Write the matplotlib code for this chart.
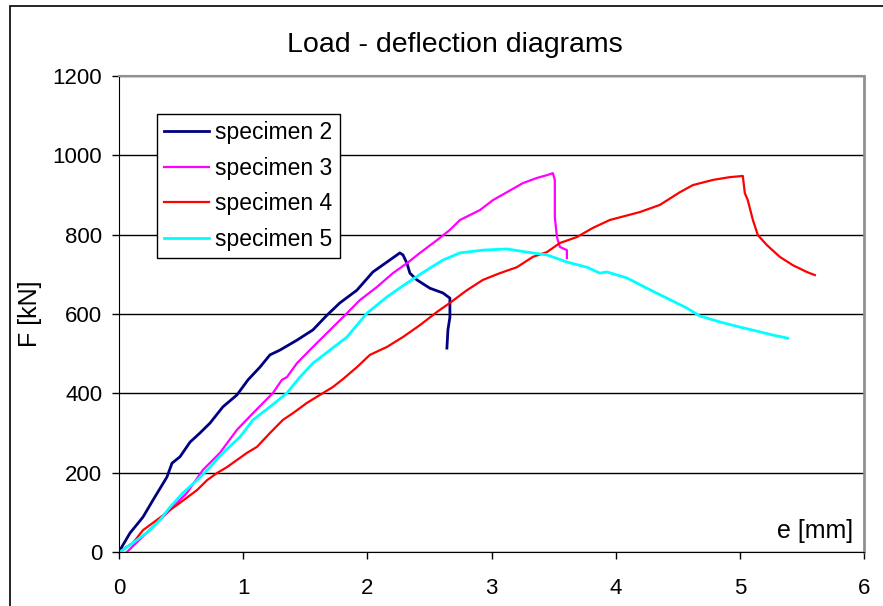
import matplotlib
matplotlib.use("Agg")
import matplotlib.pyplot as plt
from matplotlib.patches import Rectangle

plt.rcParams['font.family'] = ['Liberation Sans', 'DejaVu Sans']

# specimen 2 (navy)
e2 = [0.0, 0.008, 0.089, 0.193, 0.274, 0.386, 0.427, 0.491, 0.572, 0.652, 0.733,
      0.837, 0.950, 1.039, 1.135, 1.216, 1.296, 1.433, 1.562, 1.675, 1.779,
      1.916, 2.045, 2.158, 2.262, 2.287, 2.319, 2.343, 2.399, 2.504, 2.609,
      2.665, 2.665, 2.649, 2.641]
f2 = [0, 5, 48, 88, 131, 189, 224, 240, 277, 300, 325,
      366, 396, 434, 466, 497, 509, 534, 560, 597, 628,
      660, 706, 731, 754, 749, 728, 703, 686, 665, 653,
      640, 592, 560, 514]

# specimen 3 (magenta)
e3 = [0.064, 0.386, 0.547, 0.676, 0.813, 0.950, 1.079, 1.240, 1.312, 1.353,
      1.433, 1.562, 1.675, 1.804, 1.940, 2.077, 2.206, 2.319, 2.424, 2.560,
      2.665, 2.746, 2.907, 3.011, 3.124, 3.253, 3.366, 3.446, 3.494, 3.510,
      3.510, 3.527, 3.551, 3.607, 3.607]
f3 = [0, 98, 149, 207, 250, 308, 350, 401, 434, 441,
      476, 517, 552, 592, 635, 668, 703, 728, 754, 786,
      812, 837, 862, 887, 907, 930, 943, 950, 955, 938,
      844, 794, 769, 761, 741]

# specimen 4 (red)
e4 = [0.0, 0.113, 0.193, 0.306, 0.411, 0.491, 0.628, 0.709, 0.789, 0.870,
      0.950, 1.031, 1.111, 1.216, 1.320, 1.401, 1.514, 1.618, 1.723, 1.804,
      1.916, 2.021, 2.158, 2.287, 2.424, 2.560, 2.665, 2.802, 2.931, 3.068,
      3.205, 3.333, 3.446, 3.551, 3.688, 3.816, 3.953, 4.195, 4.356, 4.517,
      4.622, 4.783, 4.919, 5.024, 5.040, 5.064, 5.105, 5.145, 5.217, 5.322,
      5.427, 5.539, 5.604]
f4 = [0, 23, 55, 81, 106, 124, 156, 181, 199, 214,
      232, 250, 265, 300, 333, 350, 376, 396, 416, 436,
      466, 497, 517, 542, 572, 605, 628, 660, 686, 703,
      718, 744, 756, 779, 794, 817, 837, 857, 875, 907,
      925, 938, 945, 948, 905, 887, 837, 799, 774, 744,
      723, 706, 698]

# specimen 5 (cyan)
e5 = [0.008, 0.113, 0.250, 0.330, 0.411, 0.515, 0.628, 0.733, 0.837, 0.974,
      1.079, 1.216, 1.353, 1.457, 1.562, 1.699, 1.836, 1.997, 2.158, 2.319,
      2.480, 2.609, 2.746, 2.931, 3.124, 3.285, 3.446, 3.607, 3.768, 3.873,
      3.929, 4.090, 4.251, 4.412, 4.573, 4.678, 4.839, 5.000, 5.161, 5.266,
      5.386]
f5 = [0, 23, 55, 81, 113, 149, 181, 214, 250, 290,
      333, 366, 401, 441, 476, 509, 542, 602, 643, 678,
      711, 736, 754, 761, 764, 756, 749, 731, 718, 703,
      706, 691, 665, 640, 615, 595, 580, 567, 555, 547,
      539]

series = [
    (e2, f2, "specimen 2", "#000080", 2.0),
    (e3, f3, "specimen 3", "#FF00FF", 1.6),
    (e4, f4, "specimen 4", "#FF0000", 1.6),
    (e5, f5, "specimen 5", "#00FFFF", 2.0),
]

fig = plt.figure(figsize=(8.83, 6.06), dpi=100)
ax = fig.add_axes([119 / 883, 54 / 606, 745 / 883, 476 / 606])

for e, f, name, col, lw in series:
    ax.plot(e, f, color=col, lw=lw, label=name)

ax.set_xlim(0, 6)
ax.set_ylim(0, 1200)
ax.set_xticks(range(0, 7))
ax.set_yticks(range(0, 1201, 200))
ax.tick_params(labelsize=16, direction='out', length=5, width=1, color='black')
ax.tick_params(axis='x', pad=14)
ax.tick_params(axis='y', pad=7)
ax.yaxis.grid(True, color='black', lw=1)
ax.set_axisbelow(True)

ax.spines['left'].set_color('black')
ax.spines['bottom'].set_color('black')
ax.spines['top'].set_color('#909090')
ax.spines['right'].set_color('#909090')
ax.spines['top'].set_linewidth(1.5)
ax.spines['right'].set_linewidth(2)

ax.set_ylabel("F [kN]", fontsize=18)
ax.yaxis.set_label_coords(-0.103, 0.5)
ax.text(0.985, 0.018, "e [mm]", transform=ax.transAxes, ha='right', va='bottom', fontsize=18)

fig.text(455 / 883, 1 - 45 / 606, "Load - deflection diagrams", ha='center', va='center', fontsize=20.5)

leg = ax.legend(loc='upper left', bbox_to_anchor=(0.051, 0.920), borderaxespad=0,
                fontsize=16.5, handlelength=1.95, handletextpad=0.3, labelspacing=0.55,
                borderpad=0.3, fancybox=False, framealpha=1, edgecolor='black')
leg.get_frame().set_linewidth(1)

fig.patches.append(Rectangle((10 / 883, -0.05), 1.0, 1 - 6 / 606 + 0.05,
                             transform=fig.transFigure, fill=False, ec='black', lw=1.2))

fig.savefig("out.png", dpi=100)
